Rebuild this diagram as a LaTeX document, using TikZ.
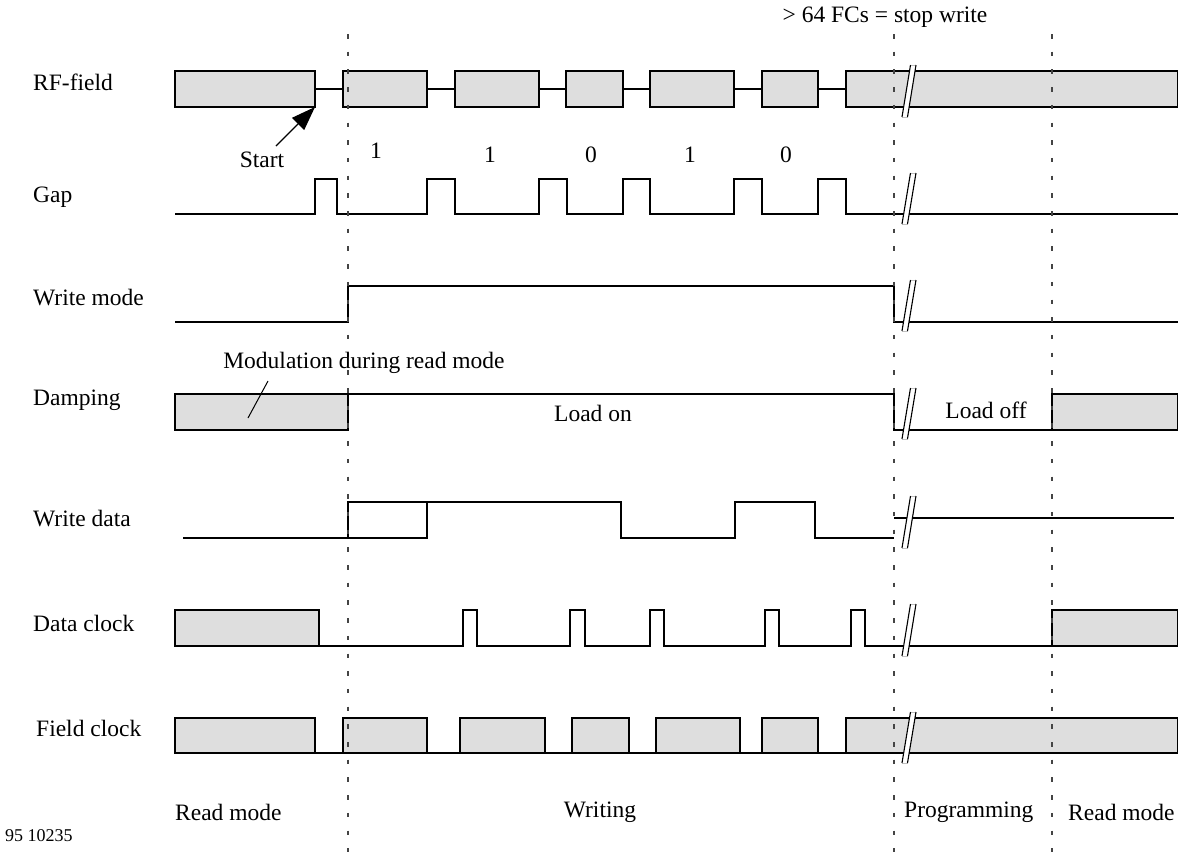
\documentclass[tikz,border=0pt]{standalone}
\usepackage{fontspec}
\setmainfont{Liberation Serif}
\usetikzlibrary{arrows.meta}
\definecolor{boxgray}{HTML}{DEDEDE}
\definecolor{dashgray}{HTML}{444444}
\tikzset{
  sig/.style={line width=1.2pt, black, line join=miter},
  sigbox/.style={line width=1.2pt, draw=black, fill=boxgray},
  vdash/.style={line width=1.5pt, dashgray, dash pattern=on 4.5pt off 13.2pt},
  lbl/.style={inner sep=0pt, font=\fontsize{23.5}{28}\selectfont},
  smalllbl/.style={inner sep=0pt, font=\fontsize{18}{22}\selectfont},
}
\newcommand{\brkmark}[2]{%
  \fill[white] (902,#2) -- (907.5,#2) -- (916,#1) -- (910.5,#1) -- cycle;
  \draw[gray!50,line width=0.6pt] (902,#2) -- (907.5,#2) (910.5,#1) -- (916,#1);
  \draw[line width=1.1pt] (902,#2) -- (910.5,#1) (907.5,#2) -- (916,#1);
}
\begin{document}
\begin{tikzpicture}[x=1pt,y=-1pt]
\useasboundingbox (0,0) rectangle (1178,852);
\fill[white] (0,0) rectangle (1178,852);

% ---------- left labels ----------
\node[lbl,anchor=west] (lrf) at (33,82) {RF-field};
\node[lbl,anchor=west] (lgap) at (33,197) {Gap};
\node[lbl,anchor=west] (lwm) at (33,298) {Write mode};
\node[lbl,anchor=west] (ldamp) at (33,400) {Damping};
\node[lbl,anchor=west] (lwd) at (33,519) {Write data};
\node[lbl,anchor=west] (ldc) at (33,623) {Data clock};
\node[lbl,anchor=west] (lfc) at (36,728) {Field clock};

% ---------- RF-field (71..107) ----------
\draw[sig] (315,89) -- (343,89) (427,89) -- (455,89) (539,89) -- (566,89)
           (623,89) -- (650,89) (734,89) -- (762,89) (818,89) -- (846,89);
\foreach \a/\b in {175/315,343/427,455/539,566/623,650/734,762/818,846/1178}
  \draw[sigbox] (\a,71) rectangle (\b,107);
\coordinate (startpt) at (315,107);

% ---------- Gap (179..214) ----------
\draw[sig] (175,214) -- (315,214) -- (315,179) -- (337,179) -- (337,214)
  -- (427,214) -- (427,179) -- (455,179) -- (455,214)
  -- (539,214) -- (539,179) -- (567,179) -- (567,214)
  -- (623,214) -- (623,179) -- (650,179) -- (650,214)
  -- (734,214) -- (734,179) -- (762,179) -- (762,214)
  -- (818,214) -- (818,179) -- (846,179) -- (846,214) -- (1178,214);
\draw[line width=2.6pt] (1008,214) -- (1014,214) (1040,214) -- (1045,214);

% ---------- Write mode (286..322) ----------
\draw[sig] (175,322) -- (348,322) -- (348,286) -- (894,286) -- (894,322) -- (1178,322);

% ---------- Damping (394..430) ----------
\draw[sigbox] (175,394) rectangle (348,430);
\draw[sig] (348,394) -- (894,394) -- (894,430) -- (1052,430);
\draw[sigbox] (1052,394) rectangle (1178,430);

% ---------- Write data (502..538) ----------
\draw[sig] (183,538) -- (348,538) -- (348,502) -- (621,502) -- (621,538)
  -- (735,538) -- (735,502) -- (815,502) -- (815,538) -- (894,538);
\draw[sig] (348,538) -- (427,538) -- (427,502);
\draw[sig] (894,518) -- (1174,518);

% ---------- Data clock (610..646) ----------
\draw[sigbox] (175,610) rectangle (319,646);
\draw[sig] (319,646) -- (463,646) -- (463,610) -- (477,610) -- (477,646)
  -- (570,646) -- (570,610) -- (585,610) -- (585,646)
  -- (650,646) -- (650,610) -- (664,610) -- (664,646)
  -- (765,646) -- (765,610) -- (779,610) -- (779,646)
  -- (851,646) -- (851,610) -- (865,610) -- (865,646) -- (1052,646);
\draw[sigbox] (1052,610) rectangle (1178,646);

% ---------- Field clock (718..753) ----------
\draw[sig] (175,753) -- (1178,753);
\foreach \a/\b in {175/315,343/427,460/545,572/629,656/740,762/818,846/1178}
  \draw[sigbox] (\a,718) rectangle (\b,753);

% ---------- vertical dashed lines ----------
\draw[vdash] (348,34) -- (348,852);
\draw[vdash] (894,34) -- (894,852);
\draw[vdash] (1052,34) -- (1052,852);

% ---------- break marks ----------
\brkmark{65}{117}
\brkmark{173}{224}
\brkmark{280}{331}
\brkmark{388}{439}
\brkmark{496}{548}
\brkmark{604}{656}
\brkmark{712}{763}

% ---------- annotations ----------
\node[lbl] (stopw) at (885,17) {> 64 FCs = stop write};
\node[lbl] (start) at (262,160) {Start};
\draw[line width=1.2pt, -{Triangle[length=24pt,width=17pt]}] (276,146) -- (startpt);
\node[lbl] (b1) at (376,151) {1};
\node[lbl] (b2) at (490,155) {1};
\node[lbl] (b3) at (591,155) {0};
\node[lbl] (b4) at (690,155) {1};
\node[lbl] (b5) at (786,155) {0};

\node[lbl] (modtxt) at (364,363) {Modulation during read mode};
\coordinate (modend) at (248,418);
\draw[line width=1pt] (268,381) -- (modend);
\node[lbl] (loadon) at (593,413) {Load on};
\node[lbl] (loadoff) at (986,410) {Load off};

% ---------- bottom phase labels ----------
\node[lbl,anchor=west] (rm1) at (175,812) {Read mode};
\node[lbl] (wr) at (600,812) {Writing};
\node[lbl,anchor=west] (prog) at (904,812) {Programming};
\node[lbl,anchor=west] (rm2) at (1068,812) {Read mode};
\node[smalllbl,anchor=west] (figid) at (5,836) {95 10235};
\end{tikzpicture}
\end{document}
